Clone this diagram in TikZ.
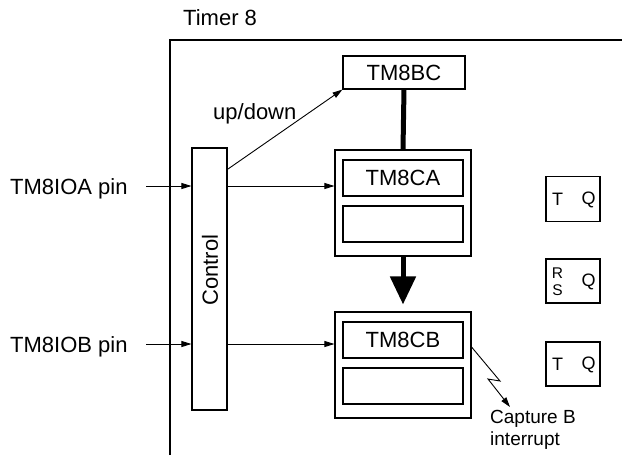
\documentclass[tikz,border=0pt]{standalone}
\usepackage{fontspec}
\setmainfont{Liberation Sans}
\usetikzlibrary{arrows.meta}
\begin{document}
\begin{tikzpicture}[x=1pt,y=-1pt,
  lbl/.style={font=\fontsize{22}{26}\selectfont, inner sep=0pt},
  sml/.style={font=\fontsize{18}{21}\selectfont, inner sep=0pt},
  blk/.style={draw, line width=1.1pt, inner sep=0pt},
  wire/.style={line width=0.9pt},
  arr/.style={wire, -{Triangle[length=10pt,width=6pt]}},
  fatline/.style={line width=5pt}
]
\useasboundingbox (0,0) rectangle (622,461);
% frame
\coordinate (fb) at (170,455);
\coordinate (ftl) at (170,40);
\coordinate (fr) at (622,40);
\draw[line width=1.1pt] (fb) -- (ftl) -- (fr);
\node[lbl, anchor=base west] (timer) at (183,25) {Timer 8};

% blocks
\node[blk, minimum width=122pt, minimum height=33pt, lbl] (bc) at (404,72.5) {TM8BC};
\node[blk, minimum width=136pt, minimum height=106pt] (cao) at (403,203) {};
\node[blk, minimum width=120pt, minimum height=36pt, lbl] (cat) at (403,178) {TM8CA};
\node[blk, minimum width=120pt, minimum height=36pt] (cab) at (403,224) {};
\node[blk, minimum width=136pt, minimum height=106pt] (cbo) at (403,365) {};
\node[blk, minimum width=120pt, minimum height=36pt, lbl] (cbt) at (403,340) {TM8CB};
\node[blk, minimum width=120pt, minimum height=36pt] (cbb) at (403,386) {};

% control
\node[blk, minimum width=35pt, minimum height=262pt] (ctrl) at (209.5,279) {};
\node[lbl, rotate=90] (ctrltxt) at (210,270) {Control};

% pins
\coordinate (rowA) at (0,186);
\coordinate (rowB) at (0,344);
\node[lbl, anchor=base west] (pinA) at (10,194) {TM8IOA pin};
\node[lbl, anchor=base west] (pinB) at (10,352) {TM8IOB pin};
\coordinate (pinAs) at (146,186);
\coordinate (pinBs) at (146,344);
\draw[arr] (pinAs) -- (ctrl.west |- rowA);
\draw[arr] (pinBs) -- (ctrl.west |- rowB);
\draw[arr] (ctrl.east |- rowA) -- (cao.west |- rowA);
\draw[arr] (ctrl.east |- rowB) -- (cbo.west |- rowB);

% up/down
\coordinate (ud) at (228,169);
\draw[arr] (ud) -- (bc.south west);
\node[lbl, anchor=base west] (udtxt) at (213,119) {up/down};

% thick connections
\draw[fatline] (bc.south) -- (cao.north);
\draw[fatline, -{Triangle[length=28pt,width=25pt]}, shorten >=7pt] (cao.south) -- (cbo.north);

% flip-flops
\node[blk, minimum width=54pt, minimum height=45pt] (ff1) at (573,199) {};
\node[sml] (ff1t) at (557.5,199.5) {T};
\node[sml] (ff1q) at (588.5,199.5) {Q};
\node[blk, minimum width=54pt, minimum height=44pt] (ff2) at (573,281) {};
\node[font=\fontsize{15.5}{18}\selectfont, inner sep=0pt] (ff2r) at (557.5,273.5) {R};
\node[font=\fontsize{15.5}{18}\selectfont, inner sep=0pt] (ff2s) at (557.5,290) {S};
\node[sml] (ff2q) at (588.5,281.5) {Q};
\node[blk, minimum width=54pt, minimum height=44pt] (ff3) at (573,364) {};
\node[sml] (ff3t) at (557.5,364.5) {T};
\node[sml] (ff3q) at (588.5,364.5) {Q};

% interrupt
\coordinate (z1) at (500,381);
\coordinate (z2) at (488,379);
\coordinate (zend) at (510,407);
\draw[arr] ([yshift=18pt]cbo.east) -- (z1) -- (z2) -- (zend);
\node[font=\fontsize{19}{22.7}\selectfont, inner sep=0pt, anchor=base west] (cap1) at (490,423) {Capture B};
\node[font=\fontsize{19}{22.7}\selectfont, inner sep=0pt, anchor=base west] (cap2) at (490,445.7) {interrupt};
\end{tikzpicture}
\end{document}
